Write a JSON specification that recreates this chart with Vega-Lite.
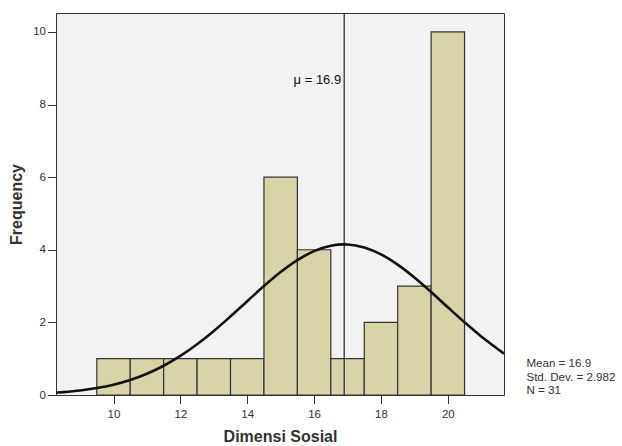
{
  "$schema": "https://vega.github.io/schema/vega-lite/v6.json",
  "width": 448,
  "height": 382,
  "autosize": {"type": "none"},
  "padding": {"left": 56, "top": 13, "right": 118, "bottom": 51},
  "background": "white",
  "config": {
    "view": {"fill": "#f2f2f2", "stroke": "#333333", "strokeWidth": 1},
    "font": "Liberation Sans",
    "axis": {
      "grid": false,
      "domain": false,
      "tickColor": "#333333",
      "tickSize": 8.5,
      "labelFont": "Liberation Sans",
      "labelFontSize": 11.5,
      "labelColor": "#333333",
      "titleFont": "Liberation Sans",
      "titleFontSize": 16,
      "titleFontWeight": "bold",
      "titleColor": "#333333"
    }
  },
  "datasets": {
    "bars": [
      {"lo": 9.5, "hi": 10.5, "count": 1},
      {"lo": 10.5, "hi": 11.5, "count": 1},
      {"lo": 11.5, "hi": 12.5, "count": 1},
      {"lo": 12.5, "hi": 13.5, "count": 1},
      {"lo": 13.5, "hi": 14.5, "count": 1},
      {"lo": 14.5, "hi": 15.5, "count": 6},
      {"lo": 15.5, "hi": 16.5, "count": 4},
      {"lo": 16.5, "hi": 17.5, "count": 1},
      {"lo": 17.5, "hi": 18.5, "count": 2},
      {"lo": 18.5, "hi": 19.5, "count": 3},
      {"lo": 19.5, "hi": 20.5, "count": 10}
    ],
    "curve": [
      {"x": 8.28, "y": 0.063},
      {"x": 8.5, "y": 0.079},
      {"x": 9, "y": 0.124},
      {"x": 9.5, "y": 0.191},
      {"x": 10, "y": 0.285},
      {"x": 10.5, "y": 0.414},
      {"x": 11, "y": 0.586},
      {"x": 11.5, "y": 0.805},
      {"x": 12, "y": 1.075},
      {"x": 12.5, "y": 1.396},
      {"x": 13, "y": 1.763},
      {"x": 13.5, "y": 2.165},
      {"x": 14, "y": 2.584},
      {"x": 14.5, "y": 3.0},
      {"x": 15, "y": 3.385},
      {"x": 15.5, "y": 3.714},
      {"x": 16, "y": 3.962},
      {"x": 16.5, "y": 4.11},
      {"x": 16.9, "y": 4.147},
      {"x": 17, "y": 4.145},
      {"x": 17.5, "y": 4.064},
      {"x": 18, "y": 3.874},
      {"x": 18.5, "y": 3.591},
      {"x": 19, "y": 3.236},
      {"x": 19.5, "y": 2.836},
      {"x": 20, "y": 2.416},
      {"x": 20.5, "y": 2.001},
      {"x": 21, "y": 1.612},
      {"x": 21.5, "y": 1.262},
      {"x": 21.68, "y": 1.14}
    ],
    "mean": [{"mean": 16.9, "label": "μ = 16.9", "ly": 8.67}],
    "stats": [
      {"sx": 22.35, "sy": 0.85, "text": "Mean = 16.9"},
      {"sx": 22.35, "sy": 0.47, "text": "Std. Dev. = 2.982"},
      {"sx": 22.35, "sy": 0.1, "text": "N = 31"}
    ]
  },
  "layer": [
    {
      "data": {"name": "bars"},
      "mark": {"type": "rect", "fill": "#d9d4a7", "stroke": "#333333", "strokeWidth": 1.2},
      "encoding": {
        "x": {"field": "lo", "type": "quantitative",
              "scale": {"domain": [8.28, 21.68], "nice": false, "zero": false},
              "axis": {"values": [10, 12, 14, 16, 18, 20], "title": "Dimensi Sosial", "titlePadding": 8, "labelPadding": 5}},
        "x2": {"field": "hi"},
        "y": {"field": "count", "type": "quantitative",
              "scale": {"domain": [0, 10.52], "nice": false},
              "axis": {"values": [0, 2, 4, 6, 8, 10], "title": "Frequency", "titlePadding": 8, "labelPadding": 2}},
        "y2": {"datum": 0}
      }
    },
    {
      "data": {"name": "mean"},
      "mark": {"type": "rule", "color": "#222222", "strokeWidth": 1.2},
      "encoding": {"x": {"field": "mean", "type": "quantitative"}}
    },
    {
      "data": {"name": "mean"},
      "mark": {"type": "text", "align": "right", "baseline": "middle", "dx": -3, "fontSize": 13, "color": "#111111"},
      "encoding": {
        "x": {"field": "mean", "type": "quantitative"},
        "y": {"field": "ly", "type": "quantitative"},
        "text": {"field": "label"}
      }
    },
    {
      "data": {"name": "curve"},
      "mark": {"type": "line", "color": "#111111", "strokeWidth": 2.6, "interpolate": "monotone"},
      "encoding": {
        "x": {"field": "x", "type": "quantitative"},
        "y": {"field": "y", "type": "quantitative"}
      }
    },
    {
      "data": {"name": "stats"},
      "mark": {"type": "text", "align": "left", "baseline": "middle", "fontSize": 11.6, "color": "#333333"},
      "encoding": {
        "x": {"field": "sx", "type": "quantitative"},
        "y": {"field": "sy", "type": "quantitative"},
        "text": {"field": "text"}
      }
    }
  ]
}
